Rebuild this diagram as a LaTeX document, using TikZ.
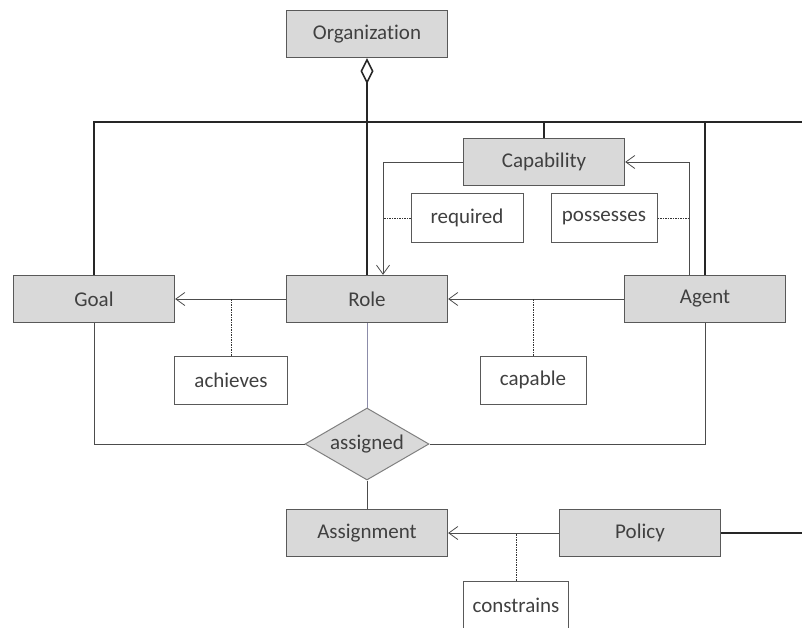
\documentclass[tikz,border=0pt]{standalone}
\usepackage{fontspec}
\setmainfont{Carlito}[Ligatures=NoCommon]
\usetikzlibrary{arrows.meta,shapes.geometric}

\begin{document}
\begin{tikzpicture}[x=1pt,y=-1pt,
  every node/.style={font=\fontsize{21}{24}\selectfont, text=black!75},
  entity/.style={draw=black!65,line width=1.3pt,fill=black!15,minimum width=161pt,minimum height=47pt},
  verb/.style={draw=black!65,line width=1pt,fill=white,minimum width=106pt,minimum height=48pt},
  link/.style={draw=black!70,line width=0.8pt},
  bus/.style={draw=black!85,line width=2.2pt},
  dot/.style={draw=black!80,line width=0.9pt,dash pattern=on 1.5pt off 1pt},
  arrowed/.style={link,-{Straight Barb[length=9pt,width=13pt]}}]
\useasboundingbox (0,0) rectangle (802,628);
% entities
\node[entity] (org) at (367,34) {Organization};
\node[entity] (cap) at (544,162) {Capability};
\node[entity] (goal) at (94,299) {Goal};
\node[entity] (role) at (367,299) {Role};
\node[entity] (agent) at (705,299) {Agent};
\node[entity] (assign) at (367,533) {Assignment};
\node[entity] (policy) at (640,533) {Policy};
\node[diamond,aspect=2,draw=black!50,line width=1pt,fill=black!15,inner sep=0pt,
  minimum width=124pt,minimum height=72pt] (asg) at (367,444) {assigned};
% relation names
\node[verb,minimum width=112pt] (req) at (467,218) {required};
\node[verb] (poss) at (604,218) {possesses};
\node[verb,minimum width=113pt] (ach) at (231,380) {achieves};
\node[verb] (capa) at (533,380) {capable};
\node[verb,minimum width=105pt] (cons) at (516,605) {constrains};
% aggregation bus
\coordinate (busend) at (802,122);
\coordinate (polend) at (802,533);
\draw[bus,{Diamond[open,length=26pt,width=13pt,line width=1.6pt]}-] (org.south) -- (role.north);
\draw[bus] (goal.north) |- (busend);
\draw[bus] (cap.north) -- (cap.north |- busend);
\draw[bus] (agent.north) -- (agent.north |- busend);
\draw[bus] (policy.east) -- (polend);
% associations
\coordinate (rq) at ([xshift=16pt]role.north);
\coordinate (ag) at ([xshift=-16pt]agent.north);
\draw[arrowed] (cap.west) -| (rq);
\draw[dot] (req.west) -- (req.west -| rq);
\draw[arrowed] (ag) |- (cap.east);
\draw[dot] (poss.east) -- (poss.east -| ag);
\draw[arrowed] (role.west) -- (goal.east);
\draw[dot] (ach.north) -- (ach.north |- role.west);
\draw[arrowed] (agent.west) -- (role.east);
\draw[dot] (capa.north) -- (capa.north |- agent.west);
\draw[arrowed] (policy.west) -- (assign.east);
\draw[dot] (cons.north) -- (cons.north |- policy.west);
% assigned
\draw[draw=blue!25!black!45,line width=0.8pt] (role.south) -- (asg.north);
\draw[link] (goal.south) |- (asg.west);
\draw[link] (agent.south) |- (asg.east);
\draw[link] (asg.south) -- (assign.north);
\end{tikzpicture}
\end{document}
